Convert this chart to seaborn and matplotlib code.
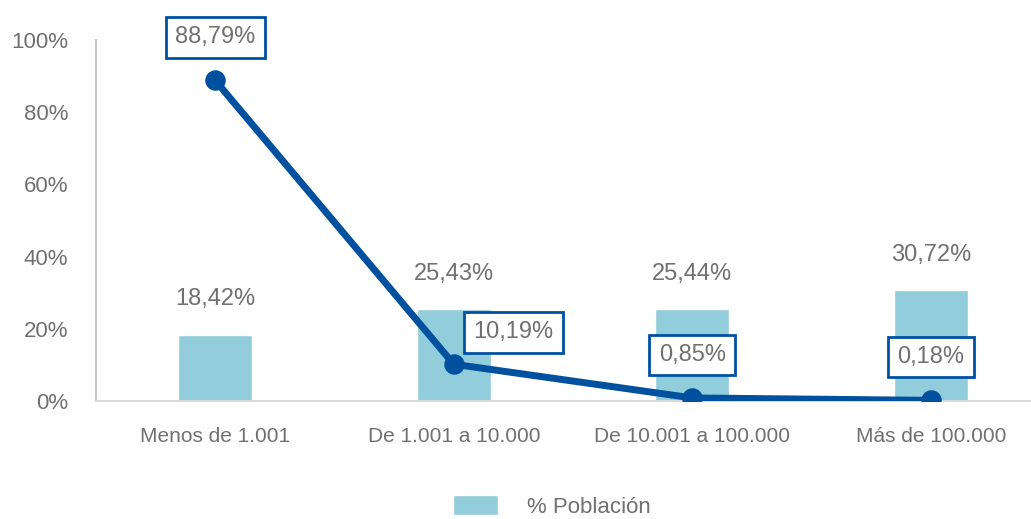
import matplotlib
matplotlib.use("Agg")
import matplotlib.pyplot as plt
import seaborn as sns
import pandas as pd
from matplotlib.ticker import FuncFormatter

categories = ["Menos de 1.001", "De 1.001 a 10.000", "De 10.001 a 100.000", "Más de 100.000"]
poblacion = [18.42, 25.43, 25.44, 30.72]
municipios = [88.79, 10.19, 0.85, 0.18]

sns.set_theme(style="white")
plt.rcParams['font.family'] = ['Liberation Sans', 'DejaVu Sans']

df = pd.DataFrame({"cat": categories, "pob": poblacion, "mun": municipios})

fig = plt.figure(figsize=(10.31, 5.19), dpi=100)
ax = fig.add_axes([96/1031, 1 - 401/519, (1050 - 96)/1031, (401 - 40)/519])

BAR = "#92CDDC"
LINE = "#0050A0"
GREY = "#707070"

sns.barplot(data=df, x="cat", y="pob", color=BAR, width=0.31, saturation=1,
            ax=ax, label="% Población", zorder=1)
sns.pointplot(data=df, x="cat", y="mun", color=LINE, markers="o", linestyles="-",
              linewidth=5, markersize=11, ax=ax, zorder=3)

ax.set_xlim(-0.5, 3.5)
ax.set_ylim(0, 100)
ax.set_yticks([0, 20, 40, 60, 80, 100])
ax.yaxis.set_major_formatter(FuncFormatter(lambda v, p: f"{int(v)}%"))
ax.set_xlabel("")
ax.set_ylabel("")
ax.tick_params(axis="both", colors=GREY, length=0)
ax.tick_params(axis="y", pad=20, labelsize=16)
ax.tick_params(axis="x", pad=19, labelsize=15)
for lab in ax.get_xticklabels() + ax.get_yticklabels():
    lab.set_color(GREY)

for s in ["top", "right"]:
    ax.spines[s].set_visible(False)
ax.spines["left"].set_color("#C8C8C8")
ax.spines["bottom"].set_color("#D9D9D9")
ax.spines["left"].set_linewidth(1.5)
ax.spines["bottom"].set_linewidth(1.5)

def fmt(v):
    return f"{v:.2f}".replace(".", ",") + "%"

for i, v in enumerate(poblacion):
    ax.text(i, v + 9.8, fmt(v), ha="center", va="center", color=GREY, fontsize=17)

offsets = [(0, 12.0), (0.25, 8.9), (0, 11.9), (0, 12.0)]
for i, v in enumerate(municipios):
    dx, dy = offsets[i]
    ax.text(i + dx, v + dy, fmt(v), ha="center", va="center", color=GREY, fontsize=17,
            zorder=5,
            bbox=dict(boxstyle="square,pad=0.4", fc="white", ec=LINE, lw=2))

leg = ax.legend(loc="center", bbox_to_anchor=(0.478, -0.293), frameon=False,
                fontsize=16, handlelength=2.0, handleheight=1.0, handletextpad=1.3)
for t in leg.get_texts():
    t.set_color(GREY)

fig.savefig("out.png", dpi=100)
